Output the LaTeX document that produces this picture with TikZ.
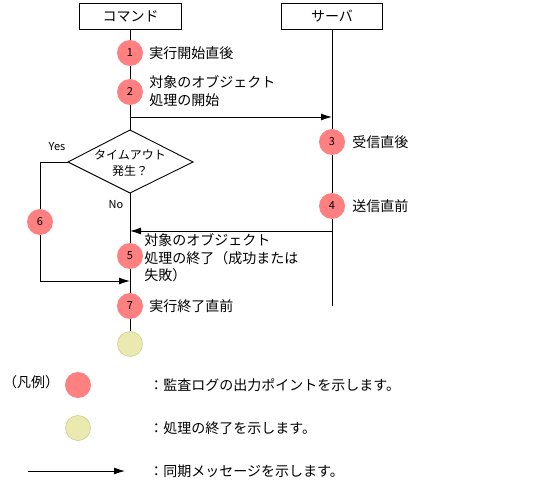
\documentclass[tikz,border=0pt]{standalone}
\usepackage{fontspec}
\setmainfont{Noto Sans CJK JP}
\usetikzlibrary{arrows.meta}
\definecolor{ptred}{RGB}{255,128,128}
\definecolor{endyel}{RGB}{234,234,176}
\definecolor{endyeld}{RGB}{205,205,150}
\begin{document}
\begin{tikzpicture}[x=1pt,y=-1pt,line width=0.9pt,
  every node/.style={font=\fontsize{14}{17.5}\selectfont, inner sep=0pt},
  lifebox/.style={draw, fill=white, minimum height=26pt},
  logpt/.style={circle, fill=ptred, minimum size=26pt, font=\fontsize{11}{12}\selectfont},
  endpt/.style={circle, fill=endyel, draw=endyeld, line width=0.6pt, minimum size=25pt},
  msg/.style={-{Latex[length=11pt,width=7pt]}},
  lbl/.style={anchor=west, align=left},
  small/.style={font=\fontsize{11}{12}\selectfont}]
\useasboundingbox (0,0) rectangle (537,494);

% lifeline heads
\node[lifebox, minimum width=102pt] (cmd) at (130.5,16) {コマンド};
\node[lifebox, minimum width=101pt] (srv) at (332,16) {サーバ};

% command side points
\node[logpt] (c1) at (130,53) {1};
\node[logpt] (c2) at (130,92) {2};
\node[logpt] (c5) at (130,256) {5};
\node[logpt] (c7) at (130,306) {7};
\node[endpt] (cend) at (130,344) {};
\node[logpt] (c6) at (40,222) {6};

% server side points
\node[logpt] (c3) at (332,142) {3};
\node[logpt] (c4) at (332,206) {4};
\coordinate (srvend) at (332,306);

% decision diamond
\coordinate (dtop) at (130,130);
\coordinate (dright) at (193,162);
\coordinate (dbot) at (130,193);
\coordinate (dleft) at (68,162);
\draw (dtop) -- (dright) -- (dbot) -- (dleft) -- cycle;
\node[align=center, font=\fontsize{12}{16}\selectfont] (dtext) at (130,163) {タイムアウト\\発生？};
\node[small] (yes) at (57,147) {Yes};
\node[small] (no) at (116,205) {No};

% lifelines
\draw (cmd.south -| c1) -- (c1);
\draw (c1) -- (c2);
\draw (c2) -- (dtop);
\draw (dbot) -- (c5);
\draw (c5) -- (c7);
\draw (c7) -- (cend);
\draw (srv.south) -- (c3);
\draw (c3) -- (c4);
\draw (c4) -- (srvend);

% messages
\coordinate (m1a) at (130,117);
\coordinate (m1b) at (332,117);
\coordinate (m2a) at (332,231);
\coordinate (m2b) at (130,231);
\draw[msg] (m1a) -- (m1b);
\draw[msg] (m2a) -- (m2b);

% timeout branch
\coordinate (yesend) at (130,281);
\draw (dleft) -| (c6);
\draw[msg] (c6) |- (yesend);

% labels
\node[lbl] (l1) at (149,53) {実行開始直後};
\node[lbl] (l2) at (149,91) {対象のオブジェクト\\処理の開始};
\node[lbl] (l3) at (352,142) {受信直後};
\node[lbl] (l4) at (352,206) {送信直前};
\node[lbl] (l5) at (144,258) {対象のオブジェクト\\処理の終了（成功または\\失敗）};
\node[lbl] (l7) at (149,306) {実行終了直前};

% legend
\node (legend) at (31,382) {（凡例）};
\node[logpt] (lgred) at (78,385) {};
\node[endpt] (lgyel) at (78,428) {};
\coordinate (lga) at (28,471);
\coordinate (lgb) at (125,471);
\draw[msg] (lga) -- (lgb);
\node[lbl] (lt1) at (149,385) {：監査ログの出力ポイントを示します。};
\node[lbl] (lt2) at (149,428) {：処理の終了を示します。};
\node[lbl] (lt3) at (149,471) {：同期メッセージを示します。};
\end{tikzpicture}
\end{document}
